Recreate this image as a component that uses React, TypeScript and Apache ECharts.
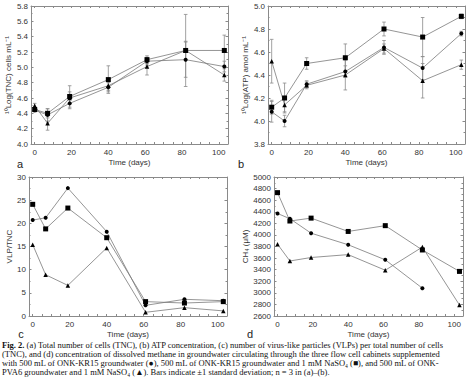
import React, { useEffect, useRef } from "react";
import * as echarts from "echarts";

const days = [0, 7, 19, 40, 61, 82, 103];
const xTicks = [0, 20, 40, 60, 80, 100];
const xMinorTicks = [0, 5, 10, 15, 20, 25, 30, 35, 40, 45, 50, 55, 60, 65, 70, 75, 80, 85, 90, 95, 100];

// (a) TNC
const tncCircle = [4.44, 4.38, 4.53, 4.74, 5.08, 5.1, 5.01];
const tncSquare = [4.45, 4.4, 4.62, 4.84, 5.1, 5.22, 5.22];
const tncTriangle = [4.5, 4.27, 4.6, 4.76, 5.01, 5.22, 4.9];
const tncCircleSd = [0.02, 0.08, 0.07, 0.06, 0.05, 0.23, 0.07];
const tncSquareSd = [0.03, 0.06, 0.14, 0.18, 0.05, 0.47, 0.2];
const tncTriangleSd = [0.03, 0.09, 0.08, 0.06, 0.11, 0.12, 0.08];

// (b) ATP
const atpCircle = [4.08, 4.0, 4.32, 4.43, 4.64, 4.46, 4.76];
const atpSquare = [4.12, 4.2, 4.5, 4.55, 4.8, 4.73, 4.91];
const atpTriangle = [4.52, 4.14, 4.31, 4.4, 4.63, 4.35, 4.49];
const atpCircleSd = [0.09, 0.05, 0.03, 0.05, 0.06, 0.1, 0.02];
const atpSquareSd = [0.06, 0.13, 0.05, 0.12, 0.06, 0.17, 0.02];
const atpTriangleSd = [0.19, 0.06, 0.03, 0.13, 0.04, 0.15, 0.04];

// (c) VLP/TNC
const vlpCircle = [20.7, 21.2, 27.6, 18.2, 2.3, 3.6, 3.3];
const vlpSquare = [24.1, 18.8, 23.3, 16.9, 3.1, 2.8, 3.1];
const vlpTriangle = [15.4, 8.9, 6.6, 14.7, 0.8, 1.8, 1.1];

// (d) CH4
const ch4Circle = [4370, 4280, 4030, 3830, 3570, 3080, null];
const ch4Square = [4730, 4240, 4290, 4060, 4160, 3740, 3370];
const ch4Triangle = [3840, 3550, 3610, 3660, 3390, 3790, 2790];

const yNames = ["¹⁰Log(TNC) cells mL⁻¹", "¹⁰Log(ATP) amol mL⁻¹", "VLP/TNC", "CH₄ (μM)"];
const panelLetters = ["a", "b", "c", "d"];

const captionLines = [
  "{b|Fig. 2.} (a) Total number of cells (TNC), (b) ATP concentration, (c) number of virus-like particles (VLPs) per total number of cells",
  "(TNC), and (d) concentration of dissolved methane in groundwater circulating through the three flow cell cabinets supplemented",
  "with 500 mL of ONK-KR15 groundwater (●), 500 mL of ONK-KR15 groundwater and 1 mM NaSO₄ (■), and 500 mL of ONK-",
  "PVA6 groundwater and 1 mM NaSO₄ (▲). Bars indicate ±1 standard deviation; n = 3 in (a)–(b).",
];

const AXIS_COLOR = "#8a8a8a";
const LABEL_COLOR = "#333";
const SANS = "Liberation Sans, Arial, sans-serif";
const SERIF = "Liberation Serif, Times New Roman, serif";

const grids = [
  { left: 31, top: 6, width: 197, height: 138 },
  { left: 268, top: 6, width: 197, height: 138 },
  { left: 29, top: 177, width: 198, height: 139 },
  { left: 274, top: 177, width: 189, height: 139 },
];
const yScales = [
  { min: 4.0, max: 5.8, interval: 0.2, fmt: (v: number) => v.toFixed(1), gap: 12 },
  { min: 3.8, max: 5.0, interval: 0.2, fmt: (v: number) => v.toFixed(1), gap: 11 },
  { min: 0, max: 30, interval: 5, fmt: (v: number) => String(v), gap: 6 },
  { min: 2600, max: 5000, interval: 200, fmt: (v: number) => String(v), gap: 17 },
];

function buildOption() {
  const xAxis: any[] = [];
  const yAxis: any[] = [];
  grids.forEach((_, k) => {
    const base = {
      type: "value",
      gridIndex: k,
      min: -2,
      max: 105,
      axisLine: { show: true, onZero: false, lineStyle: { color: AXIS_COLOR, width: 1 } },
      splitLine: { show: false },
    };
    xAxis.push({
      ...base,
      position: "bottom",
      name: "Time (days)",
      nameLocation: "middle",
      nameGap: 14,
      nameTextStyle: { fontFamily: SANS, fontSize: 8, color: LABEL_COLOR },
      axisTick: { show: true, inside: true, length: 2, customValues: xMinorTicks, lineStyle: { color: AXIS_COLOR } },
      axisLabel: { show: true, customValues: xTicks, fontFamily: SANS, fontSize: 8, color: LABEL_COLOR, margin: 4 },
    });
    xAxis.push({
      ...base,
      position: "top",
      axisTick: { show: true, inside: true, length: 2, customValues: xMinorTicks, lineStyle: { color: AXIS_COLOR } },
      axisLabel: { show: false },
    });
    const ys = yScales[k];
    const ybase = {
      type: "value",
      gridIndex: k,
      min: ys.min,
      max: ys.max,
      interval: ys.interval,
      axisLine: { show: true, onZero: false, lineStyle: { color: AXIS_COLOR, width: 1 } },
      splitLine: { show: false },
      axisTick: { show: true, inside: true, length: 2.5, lineStyle: { color: AXIS_COLOR } },
      minorTick: { show: true, splitNumber: 2, length: 1.5, lineStyle: { color: AXIS_COLOR } },
    };
    yAxis.push({
      ...ybase,
      position: "left",
      name: yNames[k],
      nameLocation: "middle",
      nameGap: ys.gap,
      nameTextStyle: { fontFamily: SANS, fontSize: 8, color: LABEL_COLOR },
      axisLabel: { show: true, fontFamily: SANS, fontSize: 8, color: LABEL_COLOR, margin: 3, formatter: ys.fmt },
    });
    yAxis.push({
      ...ybase,
      position: "right",
      axisLabel: { show: false },
    });
  });

  const series: any[] = [];
  const lineSeries = (k: number, name: string, vals: (number | null)[], symbol: string, size: number) => ({
    type: "line",
    name,
    xAxisIndex: 2 * k,
    yAxisIndex: 2 * k,
    data: days.map((d, i) => [d, vals[i]]),
    symbol,
    symbolSize: size,
    showAllSymbol: true,
    connectNulls: false,
    itemStyle: { color: "#000" },
    lineStyle: { color: "#7a7a7a", width: 0.8 },
    z: 3,
  });
  const errSeries = (k: number, vals: number[], sds: number[]) => ({
    type: "custom",
    xAxisIndex: 2 * k,
    yAxisIndex: 2 * k,
    silent: true,
    z: 2,
    data: days.map((d, i) => [d, vals[i] - sds[i], vals[i] + sds[i]]),
    renderItem: (params: any, api: any) => {
      const x = api.value(0);
      const p1 = api.coord([x, api.value(1)]);
      const p2 = api.coord([x, api.value(2)]);
      const w = 1.8;
      const st = { stroke: "#8a8a8a", lineWidth: 0.8 };
      return {
        type: "group",
        children: [
          { type: "line", shape: { x1: p1[0], y1: p1[1], x2: p2[0], y2: p2[1] }, style: st },
          { type: "line", shape: { x1: p1[0] - w, y1: p1[1], x2: p1[0] + w, y2: p1[1] }, style: st },
          { type: "line", shape: { x1: p2[0] - w, y1: p2[1], x2: p2[0] + w, y2: p2[1] }, style: st },
        ],
      };
    },
  });

  series.push(errSeries(0, tncCircle, tncCircleSd));
  series.push(errSeries(0, tncSquare, tncSquareSd));
  series.push(errSeries(0, tncTriangle, tncTriangleSd));
  series.push(errSeries(1, atpCircle, atpCircleSd));
  series.push(errSeries(1, atpSquare, atpSquareSd));
  series.push(errSeries(1, atpTriangle, atpTriangleSd));

  const sets = [
    [tncCircle, tncSquare, tncTriangle],
    [atpCircle, atpSquare, atpTriangle],
    [vlpCircle, vlpSquare, vlpTriangle],
    [ch4Circle, ch4Square, ch4Triangle],
  ];
  sets.forEach((s, k) => {
    series.push(lineSeries(k, "KR15", s[0] as any, "circle", 4));
    series.push(lineSeries(k, "KR15 + NaSO4", s[1] as any, "rect", 5));
    series.push(lineSeries(k, "PVA6 + NaSO4", s[2] as any, "triangle", 4.5));
  });

  const letterPos = [
    [20, 164],
    [241, 164],
    [21, 334],
    [250, 334],
  ];
  const graphic: any[] = letterPos.map((p, i) => ({
    type: "text",
    x: p[0],
    y: p[1],
    style: {
      text: panelLetters[i],
      font: `11px ${SANS}`,
      fill: "#222",
      textAlign: "center",
      verticalAlign: "middle",
    },
  }));
  const lineY = [345, 354, 363, 372];
  captionLines.forEach((t, i) => {
    graphic.push({
      type: "text",
      x: 2,
      y: lineY[i],
      style: {
        text: t,
        font: `8.5px ${SERIF}`,
        fill: "#111",
        verticalAlign: "middle",
        rich: { b: { fontWeight: "bold", fontFamily: SERIF, fontSize: 8.5, fill: "#111" } },
      },
    });
  });

  return {
    animation: false,
    backgroundColor: "#fff",
    grid: grids.map((g) => ({ ...g, containLabel: false, show: false })),
    xAxis,
    yAxis,
    series,
    graphic,
  };
}

export default function App() {
  const ref = useRef<HTMLDivElement>(null);
  useEffect(() => {
    document.body.style.margin = "0";
    const chart = echarts.init(ref.current!, undefined, { renderer: "svg" });
    chart.setOption(buildOption() as any);
    return () => chart.dispose();
  }, []);
  return <div ref={ref} style={{ position: "absolute", left: 0, top: 0, width: 472, height: 386 }} />;
}
